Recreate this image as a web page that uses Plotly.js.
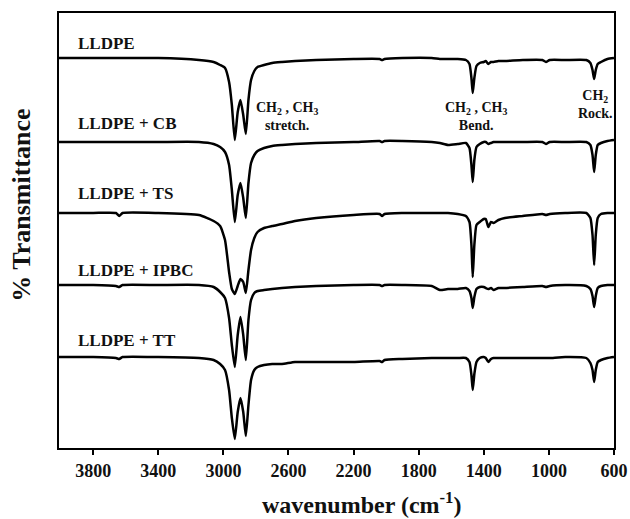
<!DOCTYPE html>
<html>
<head>
<meta charset="utf-8">
<script src="https://cdn.plot.ly/plotly-3.0.1.min.js"></script>
<style>
html,body{margin:0;padding:0;background:#fff;}
#chart{width:630px;height:519px;}
</style>
</head>
<body>
<div id="chart"></div>
<script>
// Wavenumber grid (cm^-1), shared by all spectra
const wavenumber = [4010,3800,3660,3640,3620,3400,3150,3060,3020,2990,2965,2948,2930,2912,2895,2878,2862,2846,2830,2810,2790,2750,2700,2640,2560,2430,2200,2040,2025,2010,1900,1720,1670,1620,1560,1510,1488,1476,1468,1458,1445,1425,1400,1388,1372,1356,1340,1310,1270,1160,1040,1018,995,900,770,745,732,722,712,700,680,640,600];

// Series names and vertical stacking offsets (arbitrary transmittance units)
const sampleNames = ["LLDPE","LLDPE + CB","LLDPE + TS","LLDPE + IPBC","LLDPE + TT"];
const offsets = [389,306,235,163,91];

// Relative transmittance of each spectrum (0 = baseline)
const tLLDPE = [1,1,1,1,1,1,-1,-3,-6,-9,-23,-46,-81,-53,-41,-56,-75,-41,-21,-12,-8,-6,-4,-3,-2,-1,0,0,-1,0,1,1,0,0,0,-1,-5,-19,-34,-19,-7,-4,-3,-2,-5,-3,-3,-2,-2,-1,-1,-3,-1,-1,-1,-4,-11,-20,-11,-5,-3,0,1];
const tCB = [0,0,0,0,0,0,0,-2,-5,-10,-23,-48,-80,-53,-41,-56,-76,-41,-21,-13,-9,-6,-4,-3,-2,-1,0,1,0,1,1,0,-1,-3,-2,-1,-6,-23,-40,-18,-5,-2,0,0,-2,-1,0,0,0,0,0,-2,0,0,0,-3,-13,-30,-13,-3,-1,1,2];
const tTS = [0,0,0,-3,0,0,-2,-8,-13,-27,-59,-76,-81,-73,-66,-69,-80,-57,-37,-25,-19,-15,-13,-11,-8,-5,-2,-1,-3,-1,0,0,0,0,-1,-3,-9,-32,-64,-32,-12,-9,-6,-6,-14,-9,-10,-7,-5,-3,-1,-2,-1,0,0,-5,-22,-52,-22,-5,-1,0,0];
const tIPBC = [0,0,-1,-2,0,0,0,-2,-7,-13,-33,-60,-82,-50,-32,-50,-75,-35,-15,-8,-6,-5,-4,-3,-2,-1,0,0,-1,0,0,-1,-5,-4,-4,-3,-6,-13,-23,-12,-4,-2,-2,-3,-4,-3,-5,-3,-3,-2,-1,-2,-1,0,-1,-4,-11,-22,-11,-3,-1,0,0];
const tTT = [0,0,-1,-2,0,0,-1,-3,-7,-13,-33,-61,-82,-55,-41,-55,-79,-48,-23,-13,-10,-8,-7,-7,-5,-5,-5,-4,-5,-3,-2,-1,-1,-1,-1,-1,-5,-18,-33,-17,-5,-1,0,-1,-5,-2,-1,-1,-1,-1,-1,-1,-1,0,-1,-6,-13,-25,-13,-5,-3,-1,0];
const spectra = [tLLDPE,tCB,tTS,tIPBC,tTT];

// Axis ticks
const xTicks = [3800,3400,3000,2600,2200,1800,1400,1000,600];

// Band assignments
const bandLabels = ["CH<sub>2</sub> , CH<sub>3</sub><br>stretch.","CH<sub>2</sub> , CH<sub>3</sub><br>Bend.","CH<sub>2</sub><br>Rock."];
const bandPositions = [2612,1449,711];

const FONT = "Liberation Serif, 'Times New Roman', Times, serif";

const traces = spectra.map((s,i)=>({
  x: wavenumber,
  y: s.map(v=>v+offsets[i]),
  type:'scatter', mode:'lines',
  line:{color:'#000', width:2.5, shape:'spline', smoothing:0.5},
  name: sampleNames[i], hoverinfo:'skip'
}));

const labelY = [405,325,255,178,108];
const annotations = sampleNames.map((n,i)=>({
  x:3905, y:labelY[i], xref:'x', yref:'y', text:'<b>'+n+'</b>', showarrow:false,
  xanchor:'left', yanchor:'middle', font:{family:FONT,size:17,color:'#111'}
}));
const bandY = [331.5,331.5,343.5];
bandLabels.forEach((t,i)=>annotations.push({
  x:bandPositions[i], y:bandY[i], xref:'x', yref:'y', text:'<b>'+t+'</b>', showarrow:false,
  xanchor:'center', yanchor:'middle', font:{family:FONT,size:14,color:'#111'}
}));
// Axis titles placed as annotations to match the reference offsets
annotations.push({
  x:0.546, y:-0.126, xref:'paper', yref:'paper', showarrow:false,
  text:'<b>wavenumber (cm<sup>-1</sup>)</b>', xanchor:'center', yanchor:'middle',
  font:{family:FONT,size:24,color:'#111'}
});
annotations.push({
  x:-0.0667, y:0.559, xref:'paper', yref:'paper', showarrow:false, textangle:-90,
  text:'<b>% Transmittance</b>', xanchor:'center', yanchor:'middle',
  font:{family:FONT,size:26,color:'#111'}
});

const layout = {
  width:630, height:519,
  margin:{l:59,r:16,t:13,b:71},
  paper_bgcolor:'#fff', plot_bgcolor:'#fff',
  showlegend:false,
  font:{family:FONT,color:'#111'},
  xaxis:{
    range:[4010,600], tickvals:xTicks, ticktext:xTicks.map(String),
    ticks:'outside', ticklen:5, tickwidth:2, tickcolor:'#000',
    showline:true, linewidth:2, linecolor:'#000', mirror:true,
    showgrid:false, zeroline:false,
    tickfont:{family:FONT,size:18,color:'#111',weight:'bold'},
    title:{text:''}
  },
  yaxis:{
    range:[0,435], showticklabels:false, ticks:'',
    showline:true, linewidth:2, linecolor:'#000', mirror:true,
    showgrid:false, zeroline:false,
    title:{text:''}
  },
  annotations: annotations
};

Plotly.newPlot('chart', traces, layout, {displayModeBar:false, staticPlot:true});
</script>
</body>
</html>
